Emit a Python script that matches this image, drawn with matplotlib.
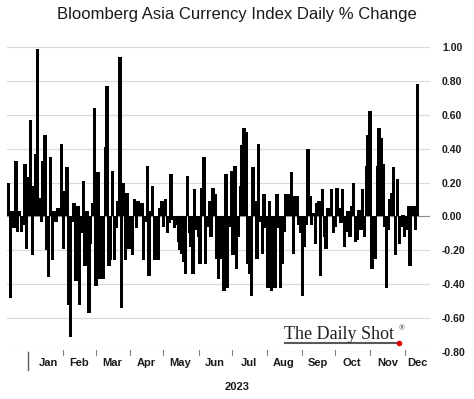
import numpy as np
import matplotlib.pyplot as plt
from matplotlib.lines import Line2D

# daily % change (Jan -> Dec 2023)
daily_change = [
    0.20, -0.48, 0.03, -0.07, 0.33, -0.09, 0.03, -0.09, -0.05, 0.31, -0.19, 0.23, 0.57,
    -0.23, 0.18, 0.37, 0.99, 0.11, -0.03, 0.33, 0.48, -0.20, -0.36, 0.35, -0.26, 0.03,
    -0.03, 0.05, 0.04, 0.43, -0.19, 0.15, 0.29, -0.52, -0.71, -0.03, 0.08,
    -0.38, 0.06, -0.52, -0.10, 0.21, -0.29, 0.03, -0.57, -0.16, 0.08, 0.64, -0.41, 0.26,
    -0.37, -0.08, -0.37, 0.41, 0.77,
    -0.29, -0.26, 0.27, -0.26, -0.07, 0.09, 0.94, -0.54, 0.20, -0.26, 0.14, -0.19, -0.12,
    -0.23, 0.10, -0.07, 0.09, 0.06, 0.08, -0.26, -0.03, 0.30, -0.35, 0.03, 0.18, -0.26,
    -0.15, -0.26, 0.05, 0.09, -0.06, 0.10, -0.10, -0.04, 0.25, -0.02, -0.07, -0.05, -0.15,
    -0.20, -0.22, -0.27, -0.34, 0.24, -0.10, -0.18, -0.34, 0.16, -0.08, -0.12, -0.28, 0.17,
    0.35,
    -0.28, -0.06, 0.09, -0.12, 0.17, 0.13, -0.25, -0.37, -0.07, -0.25, -0.44, 0.25, -0.42,
    -0.06, 0.27, -0.23, 0.30, -0.31, -0.12, 0.18, 0.42, 0.52, 0.50, -0.28, -0.34, -0.47,
    0.29, 0.09, -0.25, 0.43, -0.03, -0.22, 0.13, -0.07, -0.42, 0.09, -0.44, -0.16, -0.42,
    0.13, -0.07, -0.42, -0.28, -0.09, 0.13, 0.13, 0.10, 0.26, -0.22, 0.12, 0.12, -0.05,
    -0.10,
    -0.47, -0.18, -0.05, 0.40, 0.12, -0.05, 0.02, -0.16, 0.08, 0.09, -0.35, 0.16, -0.12,
    -0.19, 0.05, 0.05, 0.16, -0.10, -0.06, 0.17, 0.05, -0.04, 0.16, -0.18, -0.09, 0.03,
    -0.12, 0.06, 0.20, -0.15, -0.14, 0.04, -0.08, 0.16, -0.12, 0.30, 0.48, 0.62, -0.31,
    -0.08, -0.25, 0.30, 0.52, 0.46, 0.31, -0.06, -0.42, -0.08, 0.10, 0.14, 0.29, -0.23,
    0.22, -0.16, -0.06, 0.01, -0.12, -0.08, 0.06, -0.29, 0.06, 0.06, -0.08, 0.78,
]
months = ['Jan', 'Feb', 'Mar', 'Apr', 'May', 'Jun', 'Jul', 'Aug', 'Sep', 'Oct', 'Nov', 'Dec']
y_ticks = [-0.8, -0.6, -0.4, -0.2, 0.0, 0.2, 0.4, 0.6, 0.8, 1.0]
y_labels = ['%.2f' % v for v in y_ticks]

# layout in pixels
W, H = 474, 399
AX_L, AX_R, AX_T, AX_B = 7, 430, 47, 352
month_label_px = [48, 79, 112, 146, 180, 215, 249, 284, 318, 352, 388, 417]
month_tick_px = [63, 96, 130, 163, 199, 232, 267, 302, 335, 370, 405]

def fx(px):
    return (px - AX_L) / (AX_R - AX_L)

def fy(py):
    return (AX_B - py) / (AX_B - AX_T)

fig = plt.figure(figsize=(W / 100, H / 100), dpi=100)
ax = fig.add_axes([AX_L / W, 1 - AX_B / H, (AX_R - AX_L) / W, (AX_B - AX_T) / H])

n = len(daily_change)
x = np.arange(n)
first_px, last_px = 8.5, 417.5
per_px = (n - 1) / (last_px - first_px)
ax.set_xlim(-(first_px - AX_L) * per_px, (n - 1) + (AX_R - last_px) * per_px)
ax.set_ylim(-0.8, 1.0)

ax.bar(x, daily_change, width=1.9, color='black', linewidth=0, zorder=3)

ax.grid(axis='y', color='#d9d9d9', linewidth=0.8, zorder=0)
ax.axhline(0, color='#8c8c8c', linewidth=0.8, zorder=2)
for s in ax.spines.values():
    s.set_visible(False)

ax.set_xticks([])
ax.yaxis.tick_right()
ax.set_yticks(y_ticks)
ax.set_yticklabels(y_labels, fontfamily='Liberation Sans', fontweight='bold',
                   fontsize=7.5, color='#1a1a1a')
ax.tick_params(axis='y', length=0, pad=8.6)

# month axis
for px in month_tick_px:
    ax.plot([fx(px), fx(px)], [fy(350), fy(355)], transform=ax.transAxes,
            color='#808080', linewidth=0.8, clip_on=False)
ax.plot([fx(28), fx(28)], [fy(352), fy(370)], transform=ax.transAxes,
        color='#595959', linewidth=1.0, clip_on=False)
for m, px in zip(months, month_label_px):
    ax.text(fx(px), fy(363), m, transform=ax.transAxes, ha='center', va='center',
            fontfamily='Liberation Sans', fontweight='bold', fontsize=8, color='#1a1a1a')
ax.text(fx(237), fy(387), '2023', transform=ax.transAxes, ha='center', va='center',
        fontfamily='Liberation Sans', fontweight='bold', fontsize=8, color='#1a1a1a')

# title
fig.text(0.5, 1 - 14 / H, 'Bloomberg Asia Currency Index Daily % Change',
         ha='center', va='center', fontfamily='Liberation Sans', fontsize=12, color='#1a1a1a')

# watermark
fig.text(284 / W, 1 - 339 / H, 'The Daily Shot', ha='left', va='baseline',
         fontfamily='Liberation Serif', fontsize=13, color='#222222')
fig.text(399 / W, 1 - 328 / H, '\u00ae', ha='left', va='center',
         fontfamily='Liberation Serif', fontsize=5.5, color='#222222')
fig.add_artist(Line2D([285 / W, 398 / W], [1 - 343 / H, 1 - 343 / H],
                      color='#595959', linewidth=1.5))
fig.add_artist(Line2D([399 / W], [1 - 343 / H], marker='o', markersize=3,
                      color='#e00000', linewidth=0))

fig.savefig('out.png', dpi=100)
